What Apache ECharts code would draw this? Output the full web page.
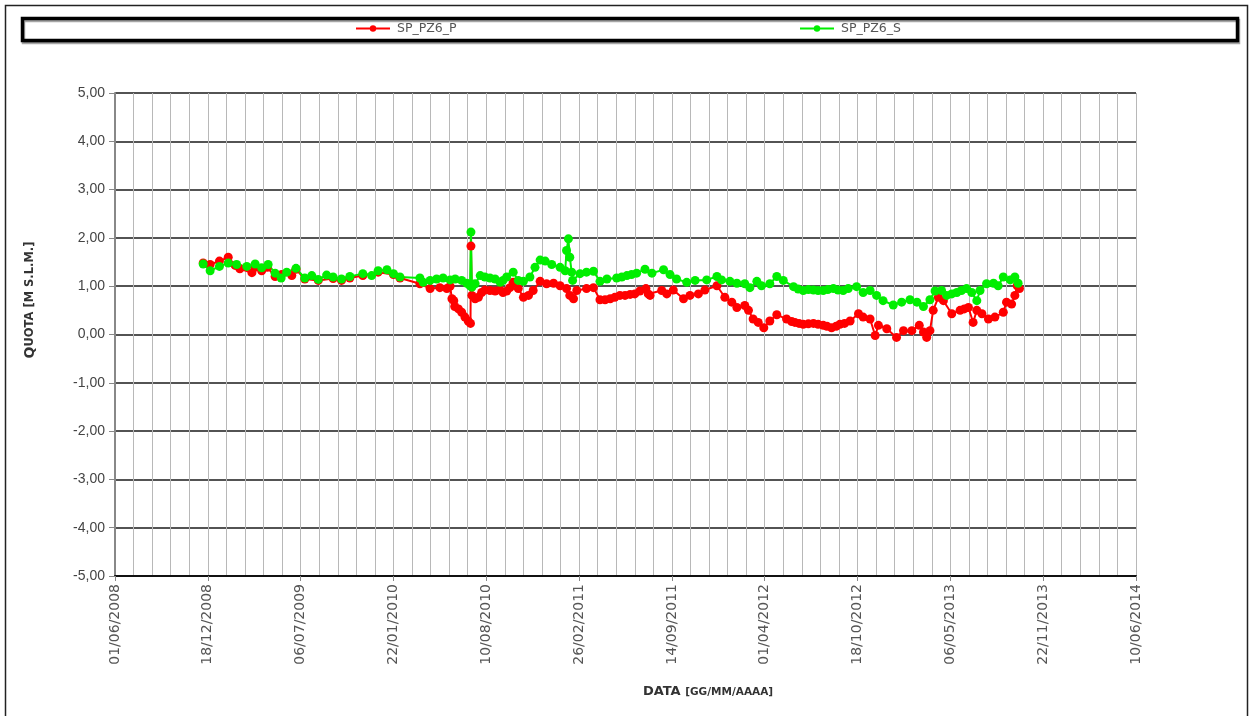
<!DOCTYPE html>
<html>
<head>
<meta charset="utf-8">
<script src="https://cdn.jsdelivr.net/npm/echarts@6/dist/echarts.min.js"></script>
<style>
  html, body { margin: 0; padding: 0; background: #fff; }
  #chart { width: 1253px; height: 716px; }
</style>
</head>
<body>
<div id="chart"></div>
<script>
// Piezometer SP_PZ6 – water level (m s.l.m.), deep (P) and shallow (S) readings

// X axis: days counted from 01/06/2008, labelled every 200 days
const AXIS_START = '2008-06-01';
const AXIS_DAYS = 2200;
const TICK_DAYS = 200;

// Y axis range and step
const Y_MIN = -5;
const Y_MAX = 5;
const Y_STEP = 1;

const seriesNames = ['SP_PZ6_P', 'SP_PZ6_S'];

const pDates = [
  '2008-12-08','2008-12-23','2009-01-12','2009-01-31','2009-02-15','2009-02-25','2009-03-23','2009-03-30','2009-04-13','2009-04-25',
  '2009-05-12','2009-05-26','2009-06-17','2009-06-26','2009-07-15','2009-08-13','2009-09-14','2009-10-02','2009-10-20','2009-11-17',
  '2009-12-20','2010-01-22','2010-02-05','2010-03-20','2010-04-11','2010-05-02','2010-05-17','2010-05-24','2010-05-28','2010-06-01',
  '2010-06-03','2010-06-11','2010-06-18','2010-06-25','2010-07-02','2010-07-07','2010-07-08','2010-07-10','2010-07-17','2010-07-24',
  '2010-07-31','2010-08-07','2010-08-18','2010-08-29','2010-09-09','2010-09-15','2010-09-23','2010-09-30','2010-10-07','2010-10-18',
  '2010-10-29','2010-11-09','2010-11-19','2010-12-04','2010-12-18','2011-01-02','2011-01-16','2011-01-30','2011-02-06','2011-02-14',
  '2011-02-21','2011-03-14','2011-03-29','2011-04-12','2011-04-23','2011-05-04','2011-05-14','2011-05-25','2011-06-05','2011-06-16',
  '2011-06-26','2011-07-07','2011-07-20','2011-07-25','2011-07-29','2011-08-23','2011-09-03','2011-09-17','2011-10-09','2011-10-23',
  '2011-11-10','2011-11-24','2011-12-20','2012-01-06','2012-01-21','2012-02-01','2012-02-18','2012-02-26','2012-03-07','2012-03-18',
  '2012-03-30','2012-04-12','2012-04-27','2012-05-18','2012-05-29','2012-06-05','2012-06-14','2012-06-23','2012-07-04','2012-07-15',
  '2012-07-25','2012-08-05','2012-08-13','2012-08-23','2012-09-02','2012-09-10','2012-09-20','2012-10-02','2012-10-20','2012-10-30',
  '2012-11-14','2012-11-25','2012-12-02','2012-12-20','2013-01-10','2013-01-25','2013-02-12','2013-02-28','2013-03-09','2013-03-16',
  '2013-03-23','2013-03-30','2013-04-10','2013-04-21','2013-05-09','2013-05-27','2013-06-05','2013-06-14','2013-06-24','2013-07-02',
  '2013-07-13','2013-07-27','2013-08-10','2013-08-28','2013-09-04','2013-09-15','2013-09-22','2013-09-27','2013-10-02'
];
const pValues = [
  1.48, 1.45, 1.52, 1.60, 1.43, 1.36, 1.28, 1.39, 1.32, 1.39,
  1.20, 1.24, 1.22, 1.35, 1.15, 1.12, 1.16, 1.12, 1.17, 1.22,
  1.29, 1.24, 1.17, 1.05, 0.95, 0.97, 0.95, 1.00, 0.74, 0.70,
  0.58, 0.53, 0.46, 0.36, 0.28, 0.23, 1.83, 0.81, 0.74, 0.77,
  0.87, 0.92, 0.91, 0.90, 0.92, 0.87, 0.90, 0.97, 1.08, 0.95,
  0.77, 0.81, 0.91, 1.10, 1.05, 1.06, 1.01, 0.95, 0.81, 0.74,
  0.91, 0.95, 0.97, 0.72, 0.72, 0.74, 0.77, 0.81, 0.81, 0.83,
  0.84, 0.90, 0.95, 0.84, 0.81, 0.91, 0.84, 0.92, 0.74, 0.81,
  0.84, 0.92, 1.01, 0.77, 0.67, 0.56, 0.60, 0.50, 0.32, 0.25,
  0.14, 0.28, 0.41, 0.32, 0.27, 0.25, 0.23, 0.21, 0.22, 0.23,
  0.21, 0.19, 0.17, 0.14, 0.17, 0.21, 0.23, 0.28, 0.43, 0.36,
  0.32, -0.02, 0.19, 0.12, -0.06, 0.08, 0.08, 0.19, 0.05, -0.06,
  0.08, 0.50, 0.77, 0.70, 0.43, 0.50, 0.53, 0.56, 0.25, 0.50,
  0.43, 0.32, 0.36, 0.46, 0.67, 0.63, 0.81, 1.01, 0.95
];

const sDates = [
  '2008-12-08','2008-12-23','2009-01-12','2009-01-31','2009-02-18','2009-03-12','2009-03-30','2009-04-13','2009-04-27','2009-05-12',
  '2009-05-25','2009-06-06','2009-06-26','2009-07-15','2009-07-30','2009-08-13','2009-08-31','2009-09-14','2009-10-02','2009-10-20',
  '2009-11-17','2009-12-06','2009-12-20','2010-01-08','2010-01-22','2010-02-05','2010-03-20','2010-03-27','2010-04-11','2010-04-25',
  '2010-05-09','2010-05-24','2010-06-04','2010-06-18','2010-06-29','2010-07-06','2010-07-08','2010-07-10','2010-07-17','2010-07-28',
  '2010-08-07','2010-08-18','2010-08-29','2010-09-09','2010-09-15','2010-09-23','2010-10-07','2010-10-18','2010-10-29','2010-11-12',
  '2010-11-23','2010-12-04','2010-12-15','2010-12-29','2011-01-16','2011-01-27','2011-01-30','2011-02-03','2011-02-06','2011-02-10',
  '2011-02-12','2011-02-28','2011-03-14','2011-03-29','2011-04-12','2011-04-27','2011-05-18','2011-05-29','2011-06-09','2011-06-19',
  '2011-06-30','2011-07-18','2011-08-02','2011-08-27','2011-09-10','2011-09-24','2011-10-16','2011-11-03','2011-11-28','2011-12-20',
  '2011-12-30','2012-01-17','2012-02-01','2012-02-18','2012-02-29','2012-03-15','2012-03-25','2012-04-12','2012-04-27','2012-05-11',
  '2012-06-02','2012-06-12','2012-06-23','2012-07-04','2012-07-15','2012-07-25','2012-08-05','2012-08-15','2012-08-27','2012-09-06',
  '2012-09-17','2012-09-28','2012-10-16','2012-10-30','2012-11-14','2012-11-28','2012-12-12','2013-01-03','2013-01-21','2013-02-08',
  '2013-02-23','2013-03-09','2013-03-23','2013-04-03','2013-04-17','2013-04-28','2013-05-09','2013-05-20','2013-05-30','2013-06-10',
  '2013-06-21','2013-07-02','2013-07-09','2013-07-23','2013-08-07','2013-08-17','2013-08-28','2013-09-12','2013-09-22','2013-09-29'
];
const sValues = [
  1.46, 1.32, 1.41, 1.48, 1.45, 1.41, 1.46, 1.38, 1.45, 1.27,
  1.17, 1.29, 1.37, 1.17, 1.22, 1.14, 1.23, 1.19, 1.15, 1.20,
  1.26, 1.22, 1.32, 1.34, 1.26, 1.19, 1.17, 1.08, 1.12, 1.15,
  1.17, 1.13, 1.15, 1.12, 1.06, 1.01, 2.12, 0.98, 1.05, 1.22,
  1.19, 1.17, 1.15, 1.08, 1.12, 1.19, 1.29, 1.12, 1.10, 1.19,
  1.39, 1.54, 1.52, 1.45, 1.39, 1.32, 1.74, 1.98, 1.60, 1.29,
  1.12, 1.26, 1.29, 1.31, 1.10, 1.15, 1.17, 1.19, 1.22, 1.24,
  1.27, 1.35, 1.27, 1.34, 1.24, 1.15, 1.08, 1.12, 1.13, 1.20,
  1.13, 1.10, 1.06, 1.05, 0.97, 1.10, 1.01, 1.05, 1.20, 1.12,
  0.99, 0.94, 0.91, 0.93, 0.92, 0.91, 0.91, 0.93, 0.95, 0.92,
  0.91, 0.95, 0.99, 0.87, 0.91, 0.81, 0.70, 0.61, 0.67, 0.72,
  0.67, 0.58, 0.72, 0.90, 0.91, 0.81, 0.84, 0.87, 0.91, 0.95,
  0.87, 0.70, 0.91, 1.05, 1.06, 1.01, 1.19, 1.13, 1.19, 1.06
];

const seriesColors = ['#ff0000', '#00ee00'];

// ---- helpers ----
const DAY_MS = 86400000;
const startMs = Date.parse(AXIS_START + 'T00:00:00Z');
const toDays = s => Math.round((Date.parse(s + 'T00:00:00Z') - startMs) / DAY_MS);
const pad = n => (n < 10 ? '0' : '') + n;
const dayLabel = v => {
  const d = new Date(startMs + v * DAY_MS);
  return pad(d.getUTCDate()) + '/' + pad(d.getUTCMonth() + 1) + '/' + d.getUTCFullYear();
};
const pairs = (dates, vals) => dates.map((d, i) => [toDays(d), vals[i]]);

const chart = echarts.init(document.getElementById('chart'));

const gridColor = '#b8b8b8';

function lineSeries(name, data, color) {
  return {
    name: name,
    type: 'line',
    data: data,
    symbol: 'circle',
    symbolSize: 9,
    showAllSymbol: true,
    lineStyle: { color: color, width: 2 },
    itemStyle: { color: color, borderWidth: 0 },
    emphasis: { disabled: true },
    animation: false
  };
}

function legendBlock(name, left) {
  return {
    data: [name],
    left: left,
    top: 22,
    itemWidth: 34,
    itemHeight: 8,
    padding: 0,
    selectedMode: false,
    textStyle: { color: '#555', fontSize: 12.5, fontFamily: 'DejaVu Sans', padding: [0, 0, 0, 2] }
  };
}

chart.setOption({
  backgroundColor: '#fff',
  animation: false,
  grid: { left: 115, right: 117, top: 93, bottom: 140, containLabel: false, outerBoundsMode: 'none' },
  legend: [legendBlock(seriesNames[0], 355), legendBlock(seriesNames[1], 799)],
  xAxis: {
    type: 'value',
    min: 0,
    max: AXIS_DAYS,
    interval: TICK_DAYS,
    axisLine: { show: true, onZero: false, lineStyle: { color: '#111', width: 2 } },
    axisTick: { show: true, length: 5, lineStyle: { color: '#888' } },
    minorTick: { show: false, splitNumber: 5 },
    splitLine: { show: true, lineStyle: { color: gridColor, width: 1 } },
    minorSplitLine: { show: true, lineStyle: { color: gridColor, width: 1 } },
    axisLabel: {
      rotate: 90,
      margin: 8,
      color: '#555',
      fontSize: 14,
      fontFamily: 'DejaVu Sans',
      formatter: dayLabel
    }
  },
  yAxis: {
    type: 'value',
    min: Y_MIN,
    max: Y_MAX,
    interval: Y_STEP,
    axisLine: { show: true, lineStyle: { color: '#888', width: 2 } },
    axisTick: { show: true, length: 6, lineStyle: { color: '#888' } },
    splitLine: { show: true, lineStyle: { color: '#1a1a1a', width: 1.5 } },
    axisLabel: {
      margin: 10,
      color: '#444',
      fontSize: 14,
      fontFamily: 'Liberation Sans',
      formatter: v => v.toFixed(2).replace('.', ',')
    }
  },
  graphic: [
    {
      type: 'rect',
      z: -1,
      silent: true,
      shape: { x: 5.5, y: 5.5, width: 1242, height: 760 },
      style: { fill: 'none', stroke: '#222', lineWidth: 1.5 }
    },
    {
      type: 'rect',
      z: 0,
      silent: true,
      shape: { x: 22.5, y: 18.5, width: 1215, height: 22 },
      style: {
        fill: '#fff', stroke: '#000', lineWidth: 3.5,
        shadowColor: 'rgba(0,0,0,0.35)', shadowOffsetX: 1, shadowOffsetY: 2, shadowBlur: 0
      }
    },
    {
      type: 'text',
      silent: true,
      x: 30,
      y: 300,
      rotation: Math.PI / 2,
      style: {
        text: '{a|Q}{b|UOTA [M S.L.M.]}',
        align: 'center',
        verticalAlign: 'middle',
        fill: '#333',
        rich: {
          a: { fontSize: 14, fontWeight: 'bold', fontFamily: 'DejaVu Sans', fill: '#333' },
          b: { fontSize: 11.5, fontWeight: 'bold', fontFamily: 'DejaVu Sans', fill: '#333' }
        }
      }
    },
    {
      type: 'text',
      silent: true,
      x: 708,
      y: 692,
      style: {
        text: '{a|DATA }{b|[GG/MM/AAAA]}',
        align: 'center',
        verticalAlign: 'middle',
        fill: '#333',
        rich: {
          a: { fontSize: 13, fontWeight: 'bold', fontFamily: 'DejaVu Sans', fill: '#333' },
          b: { fontSize: 10.5, fontWeight: 'bold', fontFamily: 'DejaVu Sans', fill: '#333' }
        }
      }
    }
  ],
  series: [
    lineSeries(seriesNames[0], pairs(pDates, pValues), seriesColors[0]),
    lineSeries(seriesNames[1], pairs(sDates, sValues), seriesColors[1])
  ]
});
</script>
</body>
</html>
